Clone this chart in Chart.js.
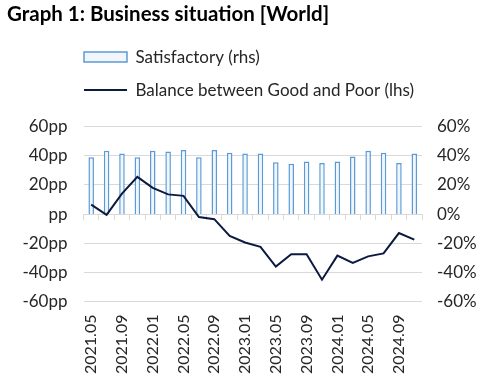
<!DOCTYPE html>
<html>
<head>
<meta charset="utf-8">
<script src="https://cdn.jsdelivr.net/npm/chart.js@4"></script>
<style>
    html, body { margin: 0; padding: 0; background: #fff; }
    #wrap { width: 500px; height: 384px; }
</style>
</head>
<body>
<div id="wrap"><canvas id="graph"></canvas></div>
<script>
// every two months, May 2021 - Nov 2024
let months = ['2021.05', '2021.07', '2021.09', '2021.11', '2022.01', '2022.03', '2022.05', '2022.07',
    '2022.09', '2022.11', '2023.01', '2023.03', '2023.05', '2023.07', '2023.09', '2023.11',
    '2024.01', '2024.03', '2024.05', '2024.07', '2024.09', '2024.11'];

// Satisfactory, % (right axis)
let satisfactory = [39, 43.5, 41.5, 39, 43.5, 43, 44, 39, 44, 42, 41.5, 41.5,
    35.5, 34.5, 36, 35, 36, 39.5, 43.5, 42, 35, 41.5];

// Balance between Good and Poor, pp (left axis)
let balance = [6.5, -0.5, 14, 25.5, 18, 13.5, 12.5, -2, -3.5, -15, -19.5, -22.5,
    -36, -27.5, -27.5, -45, -28.5, -33.5, -29, -27, -13, -17.5];

let axisTicks = [-60, -40, -20, 0, 20, 40, 60];

const fontName = 'Lato';
const textColor = '#262626';
const gridColor = '#d9d9d9';

Chart.defaults.font.family = fontName;
Chart.defaults.color = textColor;

// legend rows start under the plot and sit a bit higher than chart.js puts them
const legendShift = {
    id: 'legendShift',
    afterLayout(chart) {
        chart.legend.left = 68;
        chart.legend.top -= 18;
    }
};

let ctx = document.getElementById('graph').getContext('2d');
var businessChart = new Chart(ctx, {
    data: {
        labels: months,
        datasets: [{
            type: 'bar',
            label: 'Satisfactory (rhs)',
            data: satisfactory,
            yAxisID: 'y1',
            xAxisID: 'x',
            backgroundColor: '#f1f6fc',
            borderColor: '#5b9bd5',
            borderWidth: 1.5,
            barPercentage: 0.36,
            categoryPercentage: 1,
            order: 1
        }, {
            type: 'line',
            label: 'Balance between Good and Poor (lhs)',
            data: balance,
            yAxisID: 'y',
            xAxisID: 'x',
            borderColor: '#0c1a40',
            backgroundColor: '#0c1a40',
            borderWidth: 2,
            pointRadius: 0,
            tension: 0,
            order: 0
        }]
    },
    options: {
        responsive: true,
        maintainAspectRatio: false,
        animation: false,
        layout: {
            padding: { left: 7, right: 22, top: 0, bottom: 5 }
        },
        plugins: {
            title: {
                display: true,
                text: 'Graph 1: Business situation [World]',
                align: 'start',
                color: '#000',
                font: { size: 20.5, weight: 'bold' },
                padding: { top: 2, bottom: 24 }
            },
            legend: {
                position: 'top',
                align: 'start',
                labels: {
                    usePointStyle: true,
                    pointStyleWidth: 43,
                    boxHeight: 10,
                    padding: 16,
                    font: { size: 17 },
                    sort: (a, b) => a.datasetIndex - b.datasetIndex,
                    generateLabels: function (chart) {
                        let items = Chart.defaults.plugins.legend.labels.generateLabels(chart);
                        items.forEach(item => {
                            if (item.datasetIndex === 0) {
                                item.pointStyle = 'rect';
                                item.lineWidth = 1.5;
                            } else {
                                item.pointStyle = 'line';
                                item.lineWidth = 2;
                            }
                        });
                        return items;
                    }
                }
            },
            tooltip: { enabled: false }
        },
        scales: {
            x: {
                type: 'category',
                position: 'bottom',
                offset: true,
                grid: { display: false },
                border: { display: false },
                ticks: {
                    autoSkip: false,
                    minRotation: 90,
                    maxRotation: 90,
                    padding: 5,
                    font: { size: 16 },
                    // only every second month gets a label (null keeps it out of the sizing)
                    callback: function (val, i) {
                        return i % 2 === 0 ? this.getLabelForValue(val) : null;
                    }
                }
            },
            // category axis line across zero, with its tick marks
            xZero: {
                type: 'category',
                position: { y: 0 },
                offset: true,
                ticks: { display: false },
                grid: {
                    offset: true,
                    drawOnChartArea: false,
                    drawTicks: true,
                    tickLength: 5,
                    color: gridColor
                },
                border: { display: true, color: gridColor }
            },
            y: {
                position: 'left',
                min: -60,
                max: 60,
                afterBuildTicks: axis => { axis.ticks = axisTicks.map(v => ({ value: v })); },
                afterFit: axis => { axis.width = 76.5; },
                grid: { color: gridColor, drawTicks: false },
                border: { display: false },
                ticks: {
                    padding: 16,
                    font: { size: 17 },
                    callback: v => (v === 0 ? '' : v) + 'pp'
                }
            },
            y1: {
                position: 'right',
                min: -60,
                max: 60,
                afterBuildTicks: axis => { axis.ticks = axisTicks.map(v => ({ value: v })); },
                afterFit: axis => { axis.width = 56; },
                grid: { display: false, drawTicks: false },
                border: { display: false },
                ticks: {
                    padding: 15,
                    font: { size: 17 },
                    callback: v => v + '%'
                }
            }
        }
    },
    plugins: [legendShift]
});
</script>
</body>
</html>
